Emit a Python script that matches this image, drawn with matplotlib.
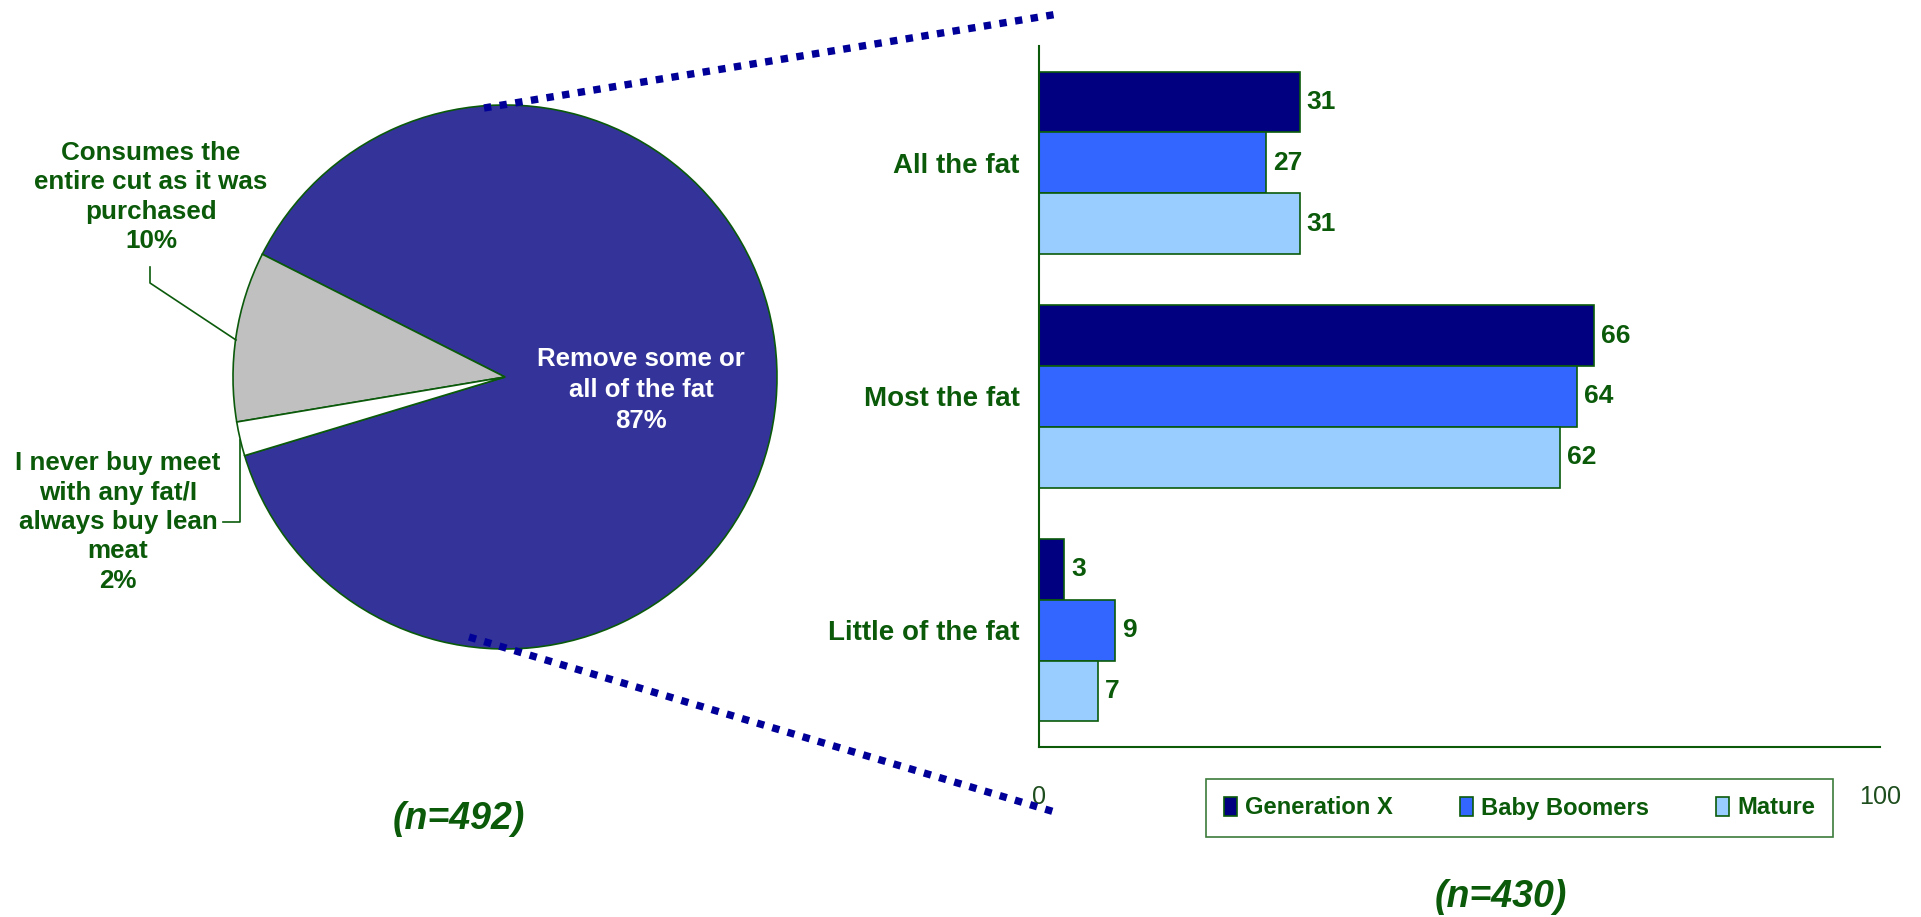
import matplotlib
matplotlib.use("Agg")
import matplotlib.pyplot as plt
from matplotlib import font_manager
from matplotlib.lines import Line2D
from matplotlib.patches import Rectangle
import numpy as np

# Pie data
pie_labels = ["Remove some or\nall of the fat\n87%",
              "Consumes the\nentire cut as it was\npurchased\n10%",
              "I never buy meet\nwith any fat/I\nalways buy lean\nmeat\n2%"]
pie_values = [87, 10, 2]
pie_colors = ["#333399", "#C0C0C0", "#FFFFFF"]

# Bar data
categories = ["All the fat", "Most the fat", "Little of the fat"]
series = ["Generation X", "Baby Boomers", "Mature"]
gen_x = [31, 66, 3]
boomers = [27, 64, 9]
mature = [31, 62, 7]
bar_colors = ["#000080", "#3366FF", "#99CCFF"]

GREEN = "#0A5A0A"
EDGE = "#0B5A0B"
DOT = "#000099"

W, H = 1921, 917
fig = plt.figure(figsize=(W / 100, H / 100), dpi=100)

names = {f.name for f in font_manager.fontManager.ttflist}
if "Liberation Sans Narrow" in names:
    NARROW = "Liberation Sans Narrow"
    nscale = 1.0
else:
    NARROW = "Liberation Sans"
    nscale = 0.95
WIDE = "Liberation Sans"


def fx(px):
    return px / W


def fy(py):
    return 1 - py / H


# ---- pie ----
cx, cy, r = 505, 377, 272
half = 1.1 * r
ax_pie = fig.add_axes([fx(cx - half), fy(cy + half), 2 * half / W, 2 * half / H])
wedges, _ = ax_pie.pie(pie_values, colors=pie_colors, startangle=196.8,
                       counterclock=True,
                       wedgeprops=dict(edgecolor=EDGE, linewidth=1.2))
ax_pie.set_xlim(-1.1, 1.1)
ax_pie.set_ylim(-1.1, 1.1)
ax_pie.set_aspect("equal")
ax_pie.axis("off")


def pd(px, py):
    return (px - cx) / r, (cy - py) / r


ax_pie.text(*pd(641, 390), pie_labels[0], color="white", ha="center", va="center",
            fontsize=18.5, fontweight="bold", family=WIDE, linespacing=1.38)
ax_pie.text(*pd(151, 197), pie_labels[1], color=GREEN, ha="center", va="center",
            fontsize=18.7, fontweight="bold", family=WIDE, linespacing=1.28,
            clip_on=False)
ax_pie.text(*pd(118, 522), pie_labels[2], color=GREEN, ha="center", va="center",
            fontsize=18.7, fontweight="bold", family=WIDE, linespacing=1.28,
            clip_on=False)

# leader lines
l1 = [pd(150, 267), pd(150, 283), pd(236, 340)]
l2 = [pd(223, 522), pd(240, 522), pd(240, 440)]
for pts in (l1, l2):
    xs, ys = zip(*pts)
    ax_pie.plot(xs, ys, color=EDGE, lw=1.2, clip_on=False)

# dotted connector lines
for (x0, y0), (x1, y1) in [((484, 108), (1058, 14)), ((469, 637), (1058, 813))]:
    fig.add_artist(Line2D([fx(x0), fx(x1)], [fy(y0), fy(y1)], color=DOT,
                          lw=5.3, dashes=(1, 1.15), dash_capstyle="butt",
                          transform=fig.transFigure))

# ---- bars ----
ax = fig.add_axes([fx(1039), fy(747), (1880 - 1039) / W, (747 - 46) / H])
y = np.arange(len(categories))
h = 0.26
for i, (vals, col) in enumerate(zip([gen_x, boomers, mature], bar_colors)):
    bars = ax.barh(y + (i - 1) * h, vals, height=h, color=col,
                   edgecolor=EDGE, linewidth=1.2, label=series[i])
    for b, v in zip(bars, vals):
        ax.annotate(str(v), (b.get_width(), b.get_y() + b.get_height() / 2),
                    xytext=(5, 0), textcoords="offset points", va="center",
                    ha="left", color=GREEN, fontsize=20 * nscale,
                    fontweight="bold", family=NARROW)

ax.set_xlim(0, 100)
ax.set_ylim(2.5, -0.5)
ax.set_yticks(y)
ax.set_yticklabels(categories, color=GREEN, fontsize=21 * nscale,
                   fontweight="bold", family=NARROW)
ax.set_xticks([0, 100])
ax.set_xticklabels(["0", "100"], color="#1E4D1E", fontsize=19 * nscale,
                   family=NARROW)
ax.tick_params(axis="y", length=0, pad=14)
ax.tick_params(axis="x", length=0, pad=27)
for s in ("top", "right"):
    ax.spines[s].set_visible(False)
for s in ("left", "bottom"):
    ax.spines[s].set_color(EDGE)
    ax.spines[s].set_linewidth(1.5)

handles = [Rectangle((0, 0), 1, 1, facecolor=c, edgecolor=EDGE, lw=1.2)
           for c in bar_colors]
leg = ax.legend(handles, series, loc="center", ncol=3,
                bbox_to_anchor=(fx(1519.5), fy(808)), bbox_transform=fig.transFigure,
                frameon=True, fancybox=False, edgecolor=EDGE,
                handlelength=0.55, handleheight=0.85, handletextpad=0.35,
                columnspacing=2.8, borderpad=0.75, borderaxespad=0,
                prop=dict(family=NARROW, weight="bold", size=18 * nscale))
leg.get_frame().set_linewidth(1.2)
for t in leg.get_texts():
    t.set_color(GREEN)

# sample sizes
fig.text(fx(459), fy(819), "(n=492)", ha="center", va="center", color=GREEN,
         fontsize=27, fontweight="bold", fontstyle="italic", family=WIDE)
fig.text(fx(1501), fy(897), "(n=430)", ha="center", va="center", color=GREEN,
         fontsize=27, fontweight="bold", fontstyle="italic", family=WIDE)

fig.savefig("out.png", dpi=100, facecolor="white")
